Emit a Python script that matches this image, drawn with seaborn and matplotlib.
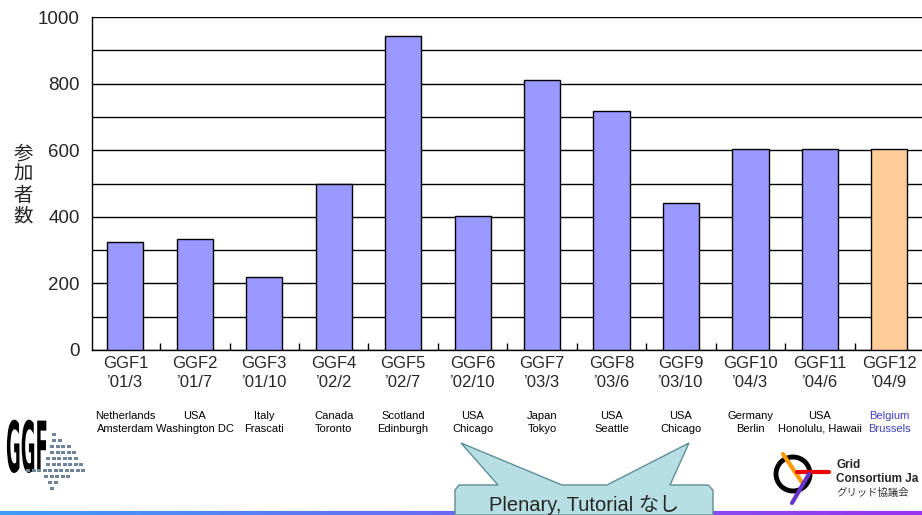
import numpy as np
import pandas as pd
import seaborn as sns
import matplotlib.pyplot as plt
from matplotlib.ticker import MultipleLocator
from matplotlib.patches import Polygon, Ellipse, PathPatch
from matplotlib.collections import LineCollection
from matplotlib.textpath import TextPath
from matplotlib.font_manager import FontProperties
import matplotlib.transforms as mtransforms

# Data
meetings = ['GGF1', 'GGF2', 'GGF3', 'GGF4', 'GGF5', 'GGF6',
            'GGF7', 'GGF8', 'GGF9', 'GGF10', 'GGF11', 'GGF12']
dates = ['’01/3', '’01/7', '’01/10', '’02/2', '’02/7', '’02/10',
         '’03/3', '’03/6', '’03/10', '’04/3', '’04/6', '’04/9']
places = ['Netherlands\nAmsterdam', 'USA\nWashington DC', 'Italy\nFrascati',
          'Canada\nToronto', 'Scotland\nEdinburgh', 'USA\nChicago',
          'Japan\nTokyo', 'USA\nSeattle', 'USA\nChicago',
          'Germany\nBerlin', 'USA\nHonolulu, Hawaii', 'Belgium\nBrussels']
attendees = [325, 333, 220, 498, 942, 403, 810, 718, 440, 603, 603, 603]
status = ['held'] * 11 + ['planned']

df = pd.DataFrame({'meeting': meetings, 'attendees': attendees, 'status': status})

sns.set_theme(style='white')
plt.rcParams['font.family'] = ['Liberation Sans', 'Noto Sans CJK JP', 'DejaVu Sans']

W, H = 922, 515
fig = plt.figure(figsize=(W / 100, H / 100), dpi=100)
ax = fig.add_axes([92 / W, 1 - 350 / H, 1 - 92 / W, 333 / H])

sns.barplot(data=df, x='meeting', y='attendees', hue='status',
            palette={'held': '#9999ff', 'planned': '#ffcc99'},
            saturation=1, width=0.52, edgecolor='black', linewidth=1.0,
            dodge=False, legend=False, ax=ax, zorder=3)

ax.set_ylim(0, 1000)
ax.set_xlim(-0.48, 11.47)
ax.yaxis.set_major_locator(MultipleLocator(200))
ax.yaxis.set_minor_locator(MultipleLocator(100))
ax.grid(axis='y', which='both', color='black', linewidth=1.0)
ax.set_axisbelow(True)
for s in ['top', 'right']:
    ax.spines[s].set_visible(False)
for s in ['left', 'bottom']:
    ax.spines[s].set_color('black')
    ax.spines[s].set_linewidth(1.0)

ax.set_xlabel('')
ax.set_ylabel('')
ax.set_xticks(range(len(meetings)))
ax.set_xticklabels([f'{m}\n{d}' for m, d in zip(meetings, dates)],
                   fontsize=12, linespacing=1.4)
ax.tick_params(axis='x', length=0, pad=4)
ax.tick_params(axis='y', length=0, labelsize=13.5, pad=9)

# small separator ticks between categories
ax.set_xticks(np.arange(len(meetings) - 1) + 0.5, minor=True)
ax.tick_params(axis='x', which='minor', direction='in', length=5,
               width=1.0, color='black', bottom=True)

# place names under the tick labels
trans = mtransforms.blended_transform_factory(ax.transData, ax.transAxes)
for i, p in enumerate(places):
    col = '#4040c0' if status[i] == 'planned' else 'black'
    ax.text(i, -0.218, p, transform=trans, ha='center', va='center',
            fontsize=8, color=col, linespacing=1.3)

# y label, stacked vertically
fig.text(23 / W, 1 - 185 / H, '参\n加\n者\n数', ha='center', va='center',
         fontsize=14, linespacing=0.98,
         family=['Noto Sans CJK JP', 'DejaVu Sans'])


def fx(x):
    return x / W


def fy(y):
    return 1 - y / H


# callout bubble
bubble = [(455, 515), (455, 490), (459, 485), (498, 485), (461, 443),
          (562, 485), (607, 485), (689, 443), (670, 485), (708, 485),
          (713, 490), (713, 515)]
fig.patches.append(Polygon([(fx(x), fy(y)) for x, y in bubble], closed=True,
                           transform=fig.transFigure, facecolor='#b7dfe3',
                           edgecolor='#5f8f96', linewidth=1.0, zorder=5))
fig.text(fx(584), fy(505), 'Plenary, Tutorial なし', ha='center', va='center',
         fontsize=14.5, zorder=6)

# GGF logo (simplified): tall condensed letters plus a dotted map
tp = TextPath((0, 0), 'GGF', size=30,
              prop=FontProperties(family='DejaVu Sans', weight='bold'))
logo_tf = mtransforms.Affine2D().scale(0.6, 2.35).translate(6, H - 472)
fig.patches.append(PathPatch(tp, transform=logo_tf, facecolor='black',
                             edgecolor='none'))
rows = [(52, 1), (52, 2), (50, 4), (50, 5), (46, 6), (46, 7), (26, 11),
        (44, 5), (48, 2), (50, 1)]
for r, (xs0, n) in enumerate(rows):
    for c in range(n):
        x0 = xs0 + c * 5.5
        y0 = 433 + r * 6
        fig.patches.append(Polygon(
            [(fx(x0), fy(y0)), (fx(x0 + 4), fy(y0)),
             (fx(x0 + 4), fy(y0 + 3)), (fx(x0), fy(y0 + 3))],
            closed=True, transform=fig.transFigure,
            facecolor='#6d8499', edgecolor='none'))

# Grid Consortium Japan logo (simplified)
fig.patches.append(Ellipse((fx(793), fy(474)), 34 / W, 34 / H,
                           transform=fig.transFigure, fill=False,
                           edgecolor='black', linewidth=3.5))
fig.lines.append(plt.Line2D([fx(783), fx(803)], [fy(454), fy(484)],
                            transform=fig.transFigure, color='#ff9900', lw=3))
fig.lines.append(plt.Line2D([fx(797), fx(829)], [fy(472), fy(472)],
                            transform=fig.transFigure, color='#ee0000', lw=3))
fig.lines.append(plt.Line2D([fx(809), fx(792)], [fy(474), fy(503)],
                            transform=fig.transFigure, color='#6633cc', lw=3))
fig.text(fx(836), fy(465), 'Grid', fontsize=8.5, fontweight='bold', va='center')
fig.text(fx(836), fy(479), 'Consortium Ja', fontsize=8.5, fontweight='bold',
         va='center')
fig.text(fx(836), fy(493), 'グリッド協議会', fontsize=7.5, va='center', color='#333333',
         family=['Noto Sans CJK JP', 'DejaVu Sans'])

# gradient rule at the bottom
xs = np.linspace(0, 1, 60)
segs = [[(xs[i], fy(513)), (xs[i + 1], fy(513))] for i in range(len(xs) - 1)]
cmap = sns.blend_palette(['#3f9cf5', '#9933ee'], n_colors=len(segs))
fig.add_artist(LineCollection(segs, colors=cmap, linewidths=3,
                              transform=fig.transFigure))

fig.savefig('out.png', dpi=100)
